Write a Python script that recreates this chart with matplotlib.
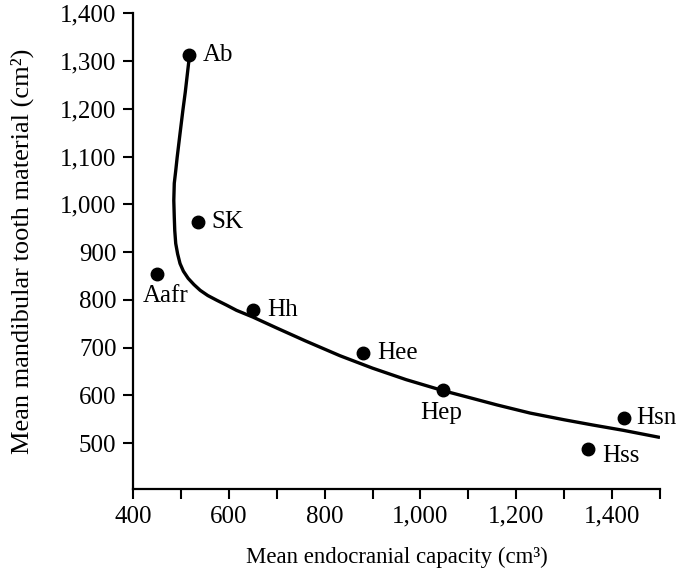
import matplotlib
matplotlib.use("Agg")
import matplotlib.pyplot as plt

plt.rcParams['font.family'] = ['Liberation Serif', 'DejaVu Serif']

# taxa: mean endocranial capacity vs mean mandibular tooth material
names = ['Ab', 'SK', 'Aafr', 'Hh', 'Hee', 'Hep', 'Hsn', 'Hss']
capacity = [517, 535, 450, 650, 880, 1047, 1425, 1350]
tooth = [1312, 963, 855, 778, 688, 612, 552, 487]

# fitted curve
curve_x = [517, 513, 509, 504, 498, 492, 489, 486, 485, 486, 487, 489, 493,
           498, 505, 515, 527, 540, 556, 575, 595, 616, 650, 700, 760, 832,
           900, 970, 1047, 1100, 1160, 1229, 1300, 1360, 1423, 1500]
curve_y = [1305, 1270, 1235, 1197, 1148, 1098, 1070, 1044, 1008, 973, 945,
           918, 896, 876, 860, 845, 832, 820, 809, 799, 789, 778, 764, 741,
           714, 683, 657, 633, 610, 596, 580, 563, 549, 538, 527, 512]

# label offsets in points
offsets = {'Ab': (10, 0), 'SK': (10, 0), 'Aafr': (6, -16), 'Hh': (10, 0),
           'Hee': (10, 0), 'Hep': (-1, -17), 'Hsn': (9, 0), 'Hss': (10, -5)}

fig = plt.figure(figsize=(6.79, 5.72), dpi=100)
ax = fig.add_axes([0.196, 0.145, 0.776, 0.832])

ax.plot(curve_x, curve_y, color='black', lw=2.4, solid_capstyle='butt',
        solid_joinstyle='round')
ax.plot(capacity, tooth, 'o', color='black', ms=9)

for n, x, y in zip(names, capacity, tooth):
    dx, dy = offsets[n]
    ha = 'left' if dx > 6 else 'center'
    ax.annotate(n, (x, y), xytext=(dx, dy), textcoords='offset points',
                ha=ha, va='center', fontsize=18)

ax.set_xlim(400, 1500)
ax.set_ylim(404, 1400)
ax.set_xticks(range(400, 1501, 100))
ax.set_xticklabels([f'{v:,}' if v % 200 == 0 and v < 1500 else '' for v in range(400, 1501, 100)])
ax.set_yticks(range(500, 1401, 100))
ax.set_yticklabels([f'{v:,}' for v in range(500, 1401, 100)])
ax.tick_params(labelsize=18, width=1.5, length=7, direction='out', pad=5)

for s in ['top', 'right']:
    ax.spines[s].set_visible(False)
for s in ['left', 'bottom']:
    ax.spines[s].set_linewidth(1.6)

ax.set_xlabel('Mean endocranial capacity (cm³)', fontsize=16.5, labelpad=14)
ax.set_ylabel('Mean mandibular tooth material (cm²)', fontsize=19, labelpad=19)

fig.savefig('out.png', dpi=100)
